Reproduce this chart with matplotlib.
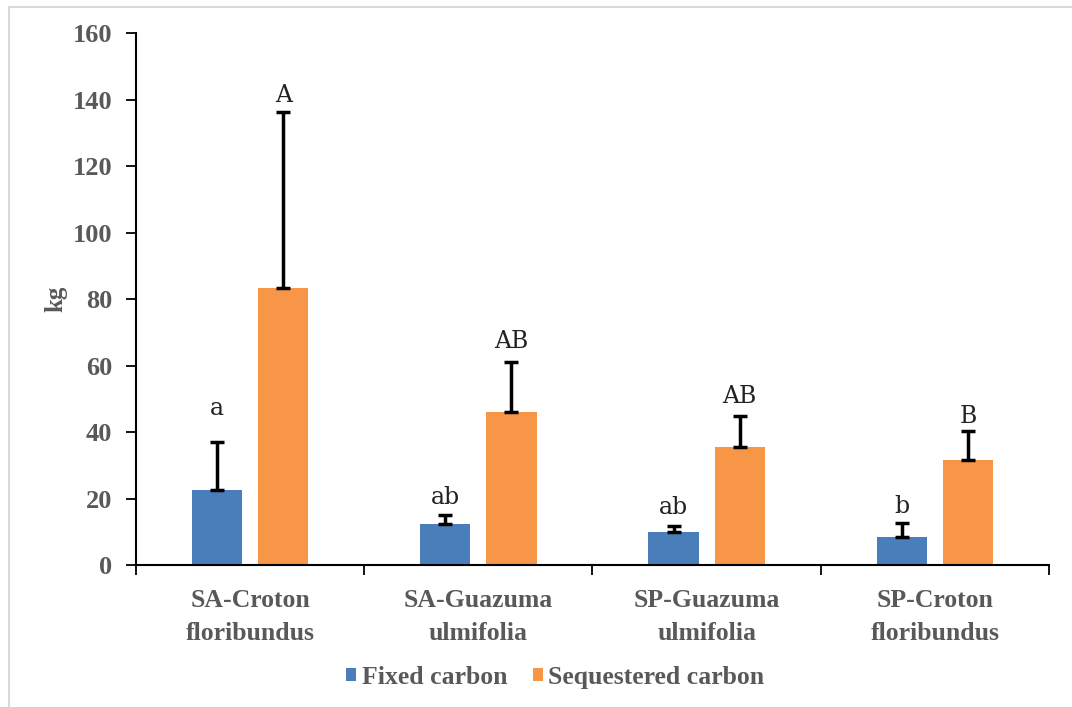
import matplotlib.pyplot as plt
import numpy as np
from matplotlib.lines import Line2D

# data
categories = ['SA-Croton\nfloribundus', 'SA-Guazuma\nulmifolia',
              'SP-Guazuma\nulmifolia', 'SP-Croton\nfloribundus']
fixed = [22.6, 12.2, 9.8, 8.3]
fixed_err = [14.5, 2.8, 2.0, 4.2]
seq = [83.3, 46.1, 35.6, 31.5]
seq_err = [53.1, 15.1, 9.3, 8.8]
fixed_letters = ['a', 'ab', 'ab', 'b']
seq_letters = ['A', 'AB', 'AB', 'B']
fixed_letter_y = [47.2, 20.2, 17.2, 17.6]
seq_letter_y = [141.4, 67.4, 50.6, 44.6]

blue = '#4A7EBB'
orange = '#F79646'
grey = '#595959'

fig = plt.figure(figsize=(10.72, 7.07), dpi=100)
ax = fig.add_axes([0.1269, 0.2008, 0.8516, 0.7521])

x = np.arange(len(categories))
w = 0.22
gap = 0.07
xf = x - (w + gap) / 2
xs = x + (w + gap) / 2

ax.bar(xf, fixed, w, color=blue, label='Fixed carbon', zorder=2)
ax.bar(xs, seq, w, color=orange, label='Sequestered carbon', zorder=2)
ek = dict(fmt='none', ecolor='black', elinewidth=2.5, capsize=5, capthick=2.5, zorder=3)
ax.errorbar(xf, fixed, yerr=[np.zeros(4), fixed_err], **ek)
ax.errorbar(xs, seq, yerr=[np.zeros(4), seq_err], **ek)

for i in range(len(x)):
    ax.text(xf[i], fixed_letter_y[i], fixed_letters[i], ha='center', va='center',
            fontsize=17, family='DejaVu Serif', color='#222222')
    ax.text(xs[i], seq_letter_y[i], seq_letters[i], ha='center', va='center',
            fontsize=17, family='DejaVu Serif', color='#222222')

ax.set_xlim(-0.5, 3.5)
ax.set_ylim(0, 160)
ax.set_yticks(np.arange(0, 161, 20))
ax.set_xticks(x)
ax.set_xticklabels(categories, fontsize=18.5, fontweight='bold', family='Liberation Serif',
                   color=grey, linespacing=1.55)
ax.set_xticks(np.arange(-0.5, 3.6, 1), minor=True)
ax.tick_params(axis='x', which='major', length=0, pad=17)
ax.tick_params(axis='x', which='minor', length=7, width=1.3, direction='out')
ax.tick_params(axis='y', length=7, width=1.3, direction='out', pad=10)
for lab in ax.get_yticklabels():
    lab.set_fontsize(19)
    lab.set_fontweight('bold')
    lab.set_family('Liberation Serif')
    lab.set_color(grey)

ax.spines['top'].set_visible(False)
ax.spines['right'].set_visible(False)
ax.spines['left'].set_linewidth(1.5)
ax.spines['bottom'].set_linewidth(1.5)

ax.set_ylabel('kg', fontsize=18, fontweight='bold', family='Liberation Serif',
              color=grey, labelpad=4)

leg = fig.legend(loc='center', bbox_to_anchor=(0.518, 0.042), ncol=2, frameon=False,
                 handlelength=0.4, handleheight=0.4, handletextpad=0.2, columnspacing=1.0,
                 prop={'family': 'Liberation Serif', 'weight': 'bold', 'size': 18.5})
for t in leg.get_texts():
    t.set_color(grey)

# faint outer border
fig.add_artist(Line2D([9 / 1072, 1], [1 - 7 / 707, 1 - 7 / 707], color='#d9d9d9', lw=1.5))
fig.add_artist(Line2D([9 / 1072, 9 / 1072], [0, 1 - 7 / 707], color='#d9d9d9', lw=1.5))

fig.savefig('out.png', dpi=100)
